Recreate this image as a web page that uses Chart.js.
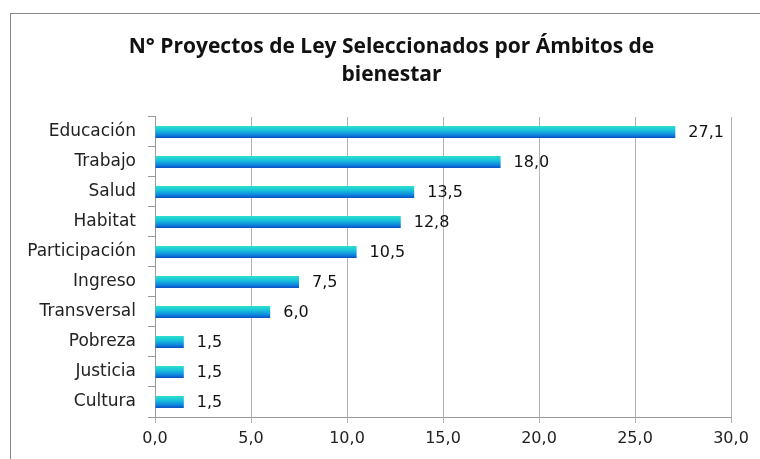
<!DOCTYPE html>
<html>
<head>
<meta charset="utf-8">
<script src="https://cdn.jsdelivr.net/npm/chart.js@4.4.1/dist/chart.umd.min.js"></script>
<style>
  html, body { margin: 0; padding: 0; background: #fff; }
  #wrap { position: relative; width: 760px; height: 459px; overflow: hidden; }
  #frame { position: absolute; left: 10px; top: 13px; width: 800px; height: 500px; border: 1px solid #888; box-sizing: border-box; }
  canvas { position: absolute; left: 0; top: 0; }
</style>
</head>
<body>
<div id="wrap">
  <div id="frame"></div>
  <canvas id="chart" width="760" height="459"></canvas>
</div>
<script>
const categories = ["Educación", "Trabajo", "Salud", "Habitat", "Participación", "Ingreso", "Transversal", "Pobreza", "Justicia", "Cultura"];
const values = [27.1, 18.0, 13.5, 12.8, 10.5, 7.5, 6.0, 1.5, 1.5, 1.5];
const titleLines = ["N° Proyectos de Ley Seleccionados por Ámbitos de", "bienestar"];

const FONT = "'DejaVu Sans', sans-serif";
const TITLE_FONT = "'Open Sans', 'DejaVu Sans', sans-serif";
const fmt = v => v.toFixed(1).replace(".", ",");

// vertical cyan -> blue gradient per bar
function barGradient(ctx) {
  const chart = ctx.chart;
  if (!chart.chartArea || !chart.scales.y) return "#1aa0dc";
  const y = chart.scales.y.getPixelForValue(ctx.dataIndex);
  const half = 6;
  const g = chart.ctx.createLinearGradient(0, y - half, 0, y + half);
  g.addColorStop(0, "#2ee0cc");
  g.addColorStop(0.35, "#18c4d8");
  g.addColorStop(0.7, "#0f8ee0");
  g.addColorStop(1, "#0a4fc4");
  return g;
}

const valueLabels = {
  id: "valueLabels",
  afterDatasetsDraw(chart) {
    const c = chart.ctx;
    const meta = chart.getDatasetMeta(0);
    c.save();
    c.font = "16px " + FONT;
    c.fillStyle = "#111";
    c.textBaseline = "middle";
    c.textAlign = "left";
    meta.data.forEach((bar, i) => {
      c.fillText(fmt(values[i]), bar.x + 13, bar.y + 1);
    });
    c.restore();
  }
};

// title sits a bit right of the canvas centre in the original
const shiftTitle = {
  id: "shiftTitle",
  afterLayout(chart) {
    if (chart.titleBlock) chart.titleBlock.left += 42;
  }
};

new Chart(document.getElementById("chart").getContext("2d"), {
  type: "bar",
  data: {
    labels: categories,
    datasets: [{
      data: values,
      backgroundColor: barGradient,
      borderWidth: 0,
      barPercentage: 0.4,
      categoryPercentage: 1.0
    }]
  },
  plugins: [valueLabels, shiftTitle],
  options: {
    indexAxis: "y",
    responsive: false,
    animation: false,
    layout: { padding: { left: 10, right: 29, top: 33, bottom: 0 } },
    plugins: {
      legend: { display: false },
      tooltip: { enabled: false },
      title: {
        display: true,
        text: titleLines,
        color: "#111",
        font: { family: TITLE_FONT, size: 21, weight: "bold", lineHeight: 1.333 },
        padding: { top: 0, bottom: 28 }
      }
    },
    scales: {
      x: {
        min: 0, max: 30,
        ticks: { stepSize: 5, color: "#222", font: { family: FONT, size: 16 }, padding: 6, callback: v => fmt(v) },
        grid: { color: "#b4b4b4", tickLength: 6, tickColor: "#b4b4b4" },
        border: { color: "#999" },
        afterFit: s => { s.height = 42; }
      },
      y: {
        offset: true,
        ticks: { color: "#222", font: { family: FONT, size: 17 }, padding: 12 },
        grid: { drawOnChartArea: false, offset: true, tickLength: 7, tickColor: "#999" },
        border: { color: "#999" },
        afterFit: s => { s.width = 145; }
      }
    }
  }
});
</script>
</body>
</html>
